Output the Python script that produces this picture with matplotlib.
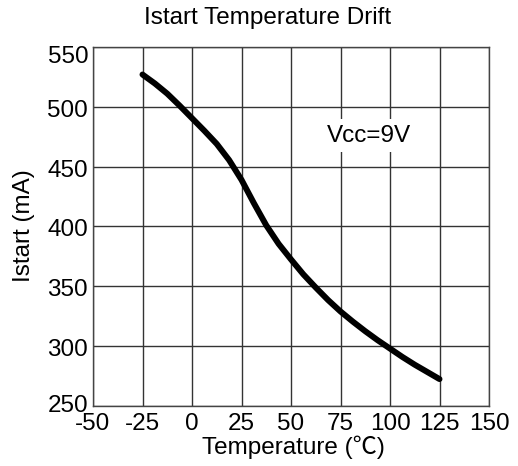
import matplotlib
matplotlib.use("Agg")
import matplotlib.pyplot as plt
from matplotlib.transforms import ScaledTranslation

temps = [-25, -18.75, -12.5, -6.25, 0, 6.25, 12.5, 18.75, 25, 31.25, 37.5, 43.75,
         50, 56.25, 62.5, 68.75, 75, 81.25, 87.5, 93.75, 100, 106.25, 112.5, 118.75, 125]
istart = [527, 519.5, 511, 501, 490.5, 480, 469, 455.5, 439, 419.5, 401, 385.5,
          372.5, 360, 349, 338.5, 329, 320.5, 312.5, 305, 298, 291, 284.5, 278.5, 272.5]
xticks = [-50, -25, 0, 25, 50, 75, 100, 125, 150]
yticks = [250, 300, 350, 400, 450, 500, 550]

plt.rcParams['font.family'] = ['Liberation Sans', 'Noto Sans CJK SC', 'DejaVu Sans']
plt.rcParams['axes.unicode_minus'] = False

FS = 17.5
fig = plt.figure(figsize=(5.18, 4.66), dpi=100)
ax = fig.add_axes([93/518, 1 - 406/466, 396/518, 359/466])

ax.plot(temps, istart, color='black', linewidth=4.3, solid_capstyle='round',
        solid_joinstyle='round', zorder=3)

ax.set_xlim(-50, 150)
ax.set_ylim(250, 550)
ax.set_xticks(xticks)
ax.set_yticks(yticks)
ax.grid(True, color='#333333', linewidth=1.0)
ax.set_axisbelow(True)
for s in ax.spines.values():
    s.set_color('#444444')
    s.set_linewidth(1.0)
ax.tick_params(axis='x', length=0, labelsize=FS, pad=5)
ax.tick_params(axis='y', length=0, labelsize=FS, pad=3.5)

fig.canvas.draw()
for lab, val in zip(ax.get_yticklabels(), yticks):
    dy = -8 if val == 550 else (3 if val == 250 else -1.5)
    lab.set_transform(lab.get_transform() + ScaledTranslation(0, dy/100, fig.dpi_scale_trans))

ax.text(89.4, 476, 'Vcc=9V', fontsize=FS, ha='center', va='center', zorder=2,
        bbox=dict(facecolor='white', edgecolor='none', pad=4))

fig.text(267.5/518, 1 - 18/466, 'Istart Temperature Drift', fontsize=FS,
         ha='center', va='center')
ax.set_xlabel('Temperature (\u2103)', fontsize=FS)
ax.xaxis.set_label_coords((293.5 - 93)/396, (406 - 447)/359)
ax.xaxis.label.set_va('center')
ax.set_ylabel('Istart (mA)', fontsize=FS)
ax.yaxis.set_label_coords((24 - 93)/396, (406 - 226)/359)
ax.yaxis.label.set_va('center')

fig.savefig('out.png', dpi=100)
